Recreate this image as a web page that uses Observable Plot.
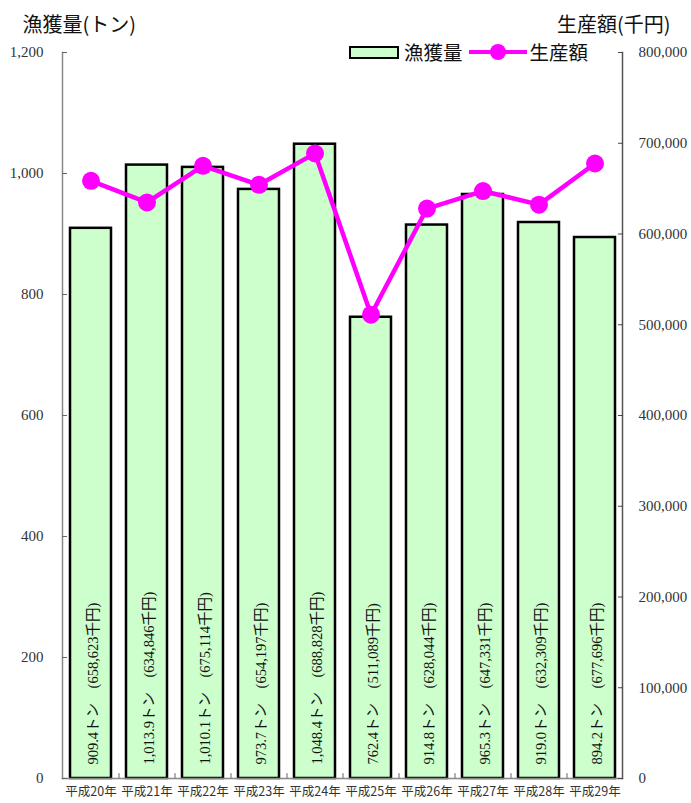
<!DOCTYPE html>
<html><head><meta charset="utf-8">
<script src="https://cdn.jsdelivr.net/npm/d3@7"></script>
<script src="https://cdn.jsdelivr.net/npm/@observablehq/plot@0.6"></script>
<style>
body{margin:0;background:#fff}
#wrap{position:relative;width:691px;height:803px}
.lg{position:absolute;top:39px;left:349px;display:flex;align-items:center;font-family:"Noto Sans CJK JP",sans-serif;font-size:19.5px;color:#111;line-height:26px}
.sw{width:46px;height:9px;background:#CCFFCC;border:2.5px solid #000;margin-right:5px}
.ln{position:relative;width:58px;height:4px;background:#FF00FF;margin:0 3px 0 6px}
.ln::after{content:"";position:absolute;left:21px;top:-6px;width:16px;height:16px;border-radius:50%;background:#FF00FF}
</style>
</head><body><div id="wrap"></div>
<script>
const years = ["平成20年","平成21年","平成22年","平成23年","平成24年","平成25年","平成26年","平成27年","平成28年","平成29年"];
const catchTons = [909.4, 1013.9, 1010.1, 973.7, 1048.4, 762.4, 914.8, 965.3, 919.0, 894.2];
const valueYen = [658623, 634846, 675114, 654197, 688828, 511089, 628044, 647331, 632309, 677696];
const leftTicks = [0, 200, 400, 600, 800, 1000, 1200];
const rightTicks = [0, 100000, 200000, 300000, 400000, 500000, 600000, 700000, 800000];
const leftMax = 1200, rightMax = 800000;
const ratio = leftMax / rightMax;

const rows = years.map((y, i) => ({year: y, c: catchTons[i], v: valueYen[i]}));
const fmt = d3.format(",");
const labelOf = d => `${d3.format(",.1f")(d.c)}トン　(${fmt(d.v)}千円)`;
const serif = `"Liberation Serif","DejaVu Serif","Noto Sans CJK JP",serif`;
const jp = `"Noto Sans CJK JP",sans-serif`;

const chart = Plot.plot({
  width: 691, height: 803,
  marginLeft: 62, marginRight: 69, marginTop: 52, marginBottom: 25,
  style: {fontFamily: serif, fontSize: "15px", color: "#333", background: "#fff"},
  x: {domain: years, paddingInner: 0.27, paddingOuter: 0.135, axis: null, label: null},
  y: {domain: [0, leftMax], axis: null, label: null},
  marks: [
    Plot.barY(rows, {x: "year", y: "c", fill: "#CCFFCC", stroke: "#000", strokeWidth: 2.5}),
    Plot.text(rows, {x: "year", y: () => 0, text: labelOf, rotate: -90, textAnchor: "start", dy: -14, dx: 2,
      fontFamily: serif, fontSize: 14.5, fill: "#111"}),
    Plot.line(rows, {x: "year", y: d => d.v * ratio, stroke: "#FF00FF", strokeWidth: 4.5}),
    Plot.dot(rows, {x: "year", y: d => d.v * ratio, r: 9, fill: "#FF00FF"}),
    Plot.frame({anchor: "left", stroke: "#888", strokeWidth: 1.5}),
    Plot.frame({anchor: "right", stroke: "#555", strokeWidth: 1.5}),
    Plot.frame({anchor: "bottom", stroke: "#888", strokeWidth: 1.5}),
    Plot.ruleX(years.slice(0, -1), {x: d => d, dx: 28, y1: 0, y2: 8, stroke: "#666"}),
    Plot.axisY(leftTicks, {anchor: "left", label: null, tickSize: -5, tickPadding: 24, tickFormat: fmt, fontSize: 15, stroke: "#666"}),
    Plot.axisY(rightTicks.map(v => v * ratio), {anchor: "right", label: null, tickSize: -5, tickPadding: 21,
      tickFormat: d => fmt(Math.round(d / ratio)), fontSize: 15, stroke: "#444"}),
    Plot.axisX({anchor: "bottom", label: null, tickSize: 0, tickPadding: 9, fontSize: 12.5, fontFamily: jp}),
    Plot.text(["漁獲量(トン)"], {frameAnchor: "top-left", text: d => d, dx: -40, dy: -35, textAnchor: "start",
      fontSize: 20, fontFamily: jp, fill: "#111"}),
    Plot.text(["生産額(千円)"], {frameAnchor: "top-right", text: d => d, dx: 48, dy: -35, textAnchor: "end",
      fontSize: 20, fontFamily: jp, fill: "#111"})
  ]
});
const wrap = document.getElementById("wrap");
wrap.appendChild(chart);
const lg = document.createElement("div");
lg.className = "lg";
lg.innerHTML = `<span class="sw"></span><span>漁獲量</span><span class="ln"></span><span>生産額</span>`;
wrap.appendChild(lg);
</script>
</body></html>
